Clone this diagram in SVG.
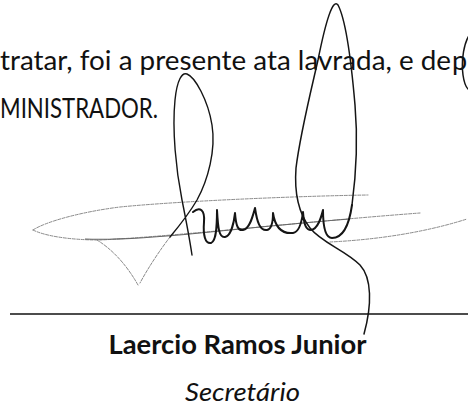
<svg xmlns="http://www.w3.org/2000/svg" width="468" height="415" viewBox="0 0 468 415">
<style>
.t{font-family:Lato,"Open Sans","Liberation Sans",sans-serif;fill:#111}
.reg{font-size:27px}
.bold{font-size:26px;font-weight:bold}
.it{font-size:25px;font-style:italic}
.ink{fill:none;stroke:#151515;stroke-linecap:round;stroke-linejoin:round}
.faint{fill:none;stroke:#8a8a8a;stroke-width:1;stroke-dasharray:3 1.5;stroke-linecap:round}
</style>
<rect width="468" height="415" fill="#fff"/>
<g id="text-body">
<text class="t reg" x="0" y="70" textLength="451" lengthAdjust="spacingAndGlyphs">tratar, foi a presente ata lavrada, e de</text>
<text class="t reg" x="452" y="70">p</text>
<text class="t reg" x="0" y="118" textLength="158" lengthAdjust="spacingAndGlyphs">MINISTRADOR.</text>
</g>
<g id="signature-line">
<line x1="10" y1="314" x2="468" y2="314" stroke="#111" stroke-width="1.6"/>
</g>
<g id="signatory">
<text class="t bold" x="237.5" y="354" text-anchor="middle" textLength="258" lengthAdjust="spacingAndGlyphs">Laercio Ramos Junior</text>
<text class="t it" x="242.5" y="401" text-anchor="middle" textLength="115" lengthAdjust="spacingAndGlyphs">Secretário</text>
</g>
<g id="signature">
<path class="faint" d="M33 230 C45 222 80 212 120 207 C180 201 300 196 368 195"/>
<path class="faint" d="M33 230 C45 236 70 240 100 240 C180 236 300 222 420 213"/>
<path d="M85 239 C110 240 150 238 200 233 C250 228 300 223 350 219" fill="none" stroke="#666" stroke-width="1.2"/>
<path class="faint" d="M330 242 C370 240 420 234 467 219"/>
<path class="faint" d="M97 240 C110 248 125 262 138 285"/>
<path class="faint" d="M170 237 C160 250 148 268 140 283"/>
<path class="ink" stroke-width="1.4" d="M192 255 C189 235 185 215 182 200 C176 170 172 130 175 100 C177 80 182 72 187 74 C195 77 208 100 212 125 C216 150 208 180 197 200 C190 212 180 225 170 237"/>
<path class="ink" stroke-width="2" d="M193 212 C200 206 205 210 204 222 C203 235 205 244 211 243 C217 241 217 222 217 210 C218 228 219 238 225 237 C231 236 234 222 235 213 C236 226 238 231 243 230 C250 229 253 215 255 208 C257 222 260 231 267 230 C272 229 273 220 273 213 C275 227 282 234 293 233 C300 232 302 220 303 212 C304 225 306 230 311 230 C318 229 321 218 323 210 C323 225 325 238 332 238 C342 238 349 226 352 205"/>
<path class="ink" stroke-width="1.5" d="M352 205 C356 175 358 140 355 105 C352 70 346 20 338 5 C333 -2 326 20 318 60 C310 95 300 135 296 168 C294 195 300 215 310 228 C322 243 345 250 360 265 C372 278 372 305 364 334"/>
<path class="ink" stroke-width="1.5" d="M470 34 C464 42 461 60 463 75 C464 82 466 87 468 89"/>
</g>
</svg>
